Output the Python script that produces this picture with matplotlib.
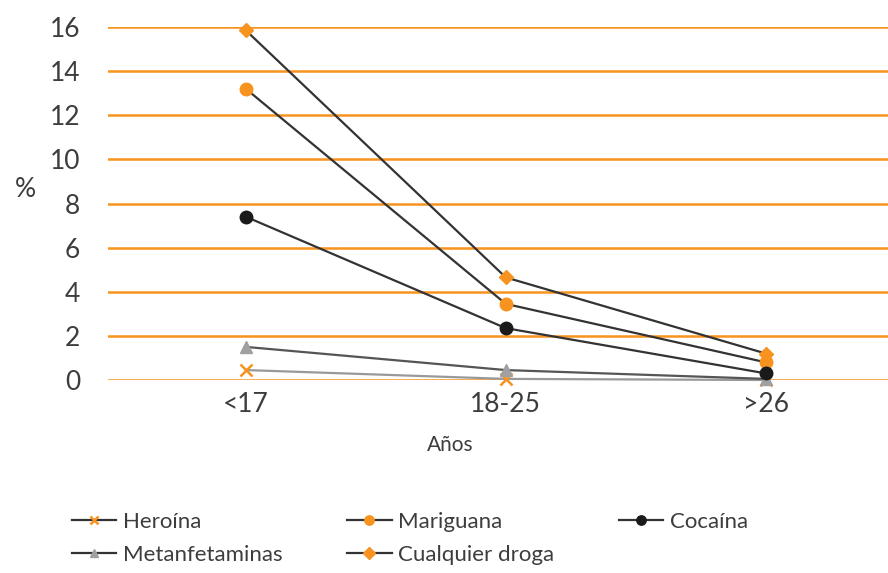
import matplotlib
matplotlib.use("Agg")
import matplotlib.pyplot as plt
from matplotlib.lines import Line2D

plt.rcParams['font.family'] = ['Lato', 'DejaVu Sans']

categories = ["<17", "18-25", ">26"]
heroina = [0.45, 0.05, 0.0]
mariguana = [13.2, 3.45, 0.8]
cocaina = [7.4, 2.35, 0.3]
metanfetaminas = [1.5, 0.45, 0.05]
cualquier = [15.85, 4.65, 1.2]
yticks = [0, 2, 4, 6, 8, 10, 12, 14, 16]

ORANGE = "#f7931e"
TEXT = "#3d3d3d"
LINE = "#333333"

fig = plt.figure(figsize=(8.88, 5.73), dpi=100)
ax = fig.add_axes([108 / 888, 1 - 380 / 573, 1 - 108 / 888, (380 - 27) / 573])

x = list(range(len(categories)))

for yv in yticks:
    ax.axhline(yv, color=ORANGE, lw=1.8, zorder=1)

series = [
    ("Heroína", heroina, dict(marker="x", color="#999999", mfc=ORANGE, mec=ORANGE, ms=8, mew=1.8)),
    ("Metanfetaminas", metanfetaminas, dict(marker="^", color="#555555", mfc="#a0a0a0", mec="#a0a0a0", ms=8)),
    ("Mariguana", mariguana, dict(marker="o", color=LINE, mfc=ORANGE, mec=ORANGE, ms=9)),
    ("Cualquier droga", cualquier, dict(marker="D", color=LINE, mfc=ORANGE, mec=ORANGE, ms=7.5)),
    ("Cocaína", cocaina, dict(marker="o", color=LINE, mfc="#1a1a1a", mec="#1a1a1a", ms=9)),
]

handles = []
for name, vals, st in series:
    ax.plot(x, vals, lw=1.6, clip_on=False, zorder=3, **st)
    legst = dict(st)
    legst["color"] = LINE
    legst["ms"] = st["ms"] * 0.75
    handles.append(Line2D([], [], lw=1.6, label=name, **legst))

ax.set_xlim(-0.53, 2.47)
ax.set_ylim(0, 16)
ax.set_xticks(x)
ax.set_xticklabels(categories)
ax.set_yticks(yticks)
ax.tick_params(axis="both", length=0, labelsize=19, colors=TEXT)
ax.tick_params(axis="y", pad=20)
ax.tick_params(axis="x", pad=9)
for s in ax.spines.values():
    s.set_visible(False)

ax.set_xlabel("Años", fontsize=15, color=TEXT)
ax.xaxis.set_label_coords((450 - 108) / 780, -(445 - 380) / 353)
ax.xaxis.label.set_va("center")
fig.text(25 / 888, 1 - 190 / 573, "%", fontsize=19, color=TEXT, ha="center", va="center")

fig.legend(handles=handles, ncol=3, loc="lower left",
           bbox_to_anchor=(52 / 888, -12 / 573), frameon=False,
           fontsize=16, labelcolor=TEXT, handlelength=2.0, handletextpad=0.3,
           columnspacing=2.9, labelspacing=0.6)

fig.savefig("out.png", dpi=100)
